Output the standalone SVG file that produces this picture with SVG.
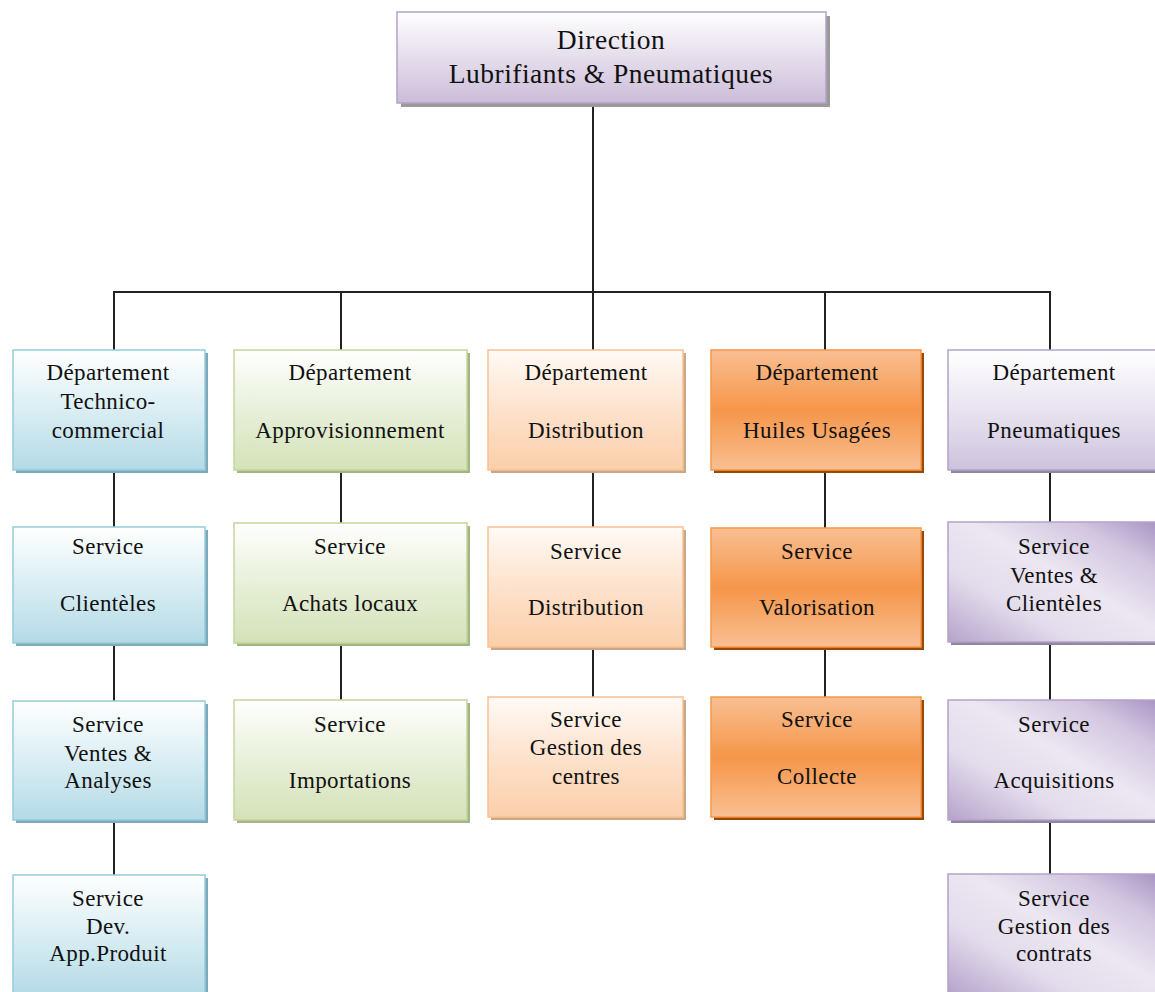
<svg xmlns="http://www.w3.org/2000/svg" width="1155" height="992" viewBox="0 0 1155 992">
  <defs>
    <linearGradient id="gTop" x1="0" y1="0" x2="0" y2="1">
      <stop offset="0" stop-color="#ffffff"/>
      <stop offset="1" stop-color="#cbbcd8"/>
    </linearGradient>
    <linearGradient id="gBlue" x1="0" y1="0" x2="0" y2="1">
      <stop offset="0" stop-color="#ffffff"/>
      <stop offset="0.55" stop-color="#d6ecf2"/>
      <stop offset="1" stop-color="#b4dae6"/>
    </linearGradient>
    <linearGradient id="gGreen" x1="0" y1="0" x2="0" y2="1">
      <stop offset="0" stop-color="#ffffff"/>
      <stop offset="0.55" stop-color="#e6eed6"/>
      <stop offset="1" stop-color="#d4e2b8"/>
    </linearGradient>
    <linearGradient id="gPeach" x1="0" y1="0" x2="0" y2="1">
      <stop offset="0" stop-color="#fffaf6"/>
      <stop offset="0.55" stop-color="#fde0c9"/>
      <stop offset="1" stop-color="#fbcfaa"/>
    </linearGradient>
    <linearGradient id="gOrange" x1="0" y1="0" x2="0" y2="1">
      <stop offset="0" stop-color="#f9bf92"/>
      <stop offset="0.5" stop-color="#f5964a"/>
      <stop offset="1" stop-color="#f9bf92"/>
    </linearGradient>
    <linearGradient id="gPurple" x1="0" y1="1" x2="1" y2="0">
      <stop offset="0" stop-color="#b5a3cb"/>
      <stop offset="0.3" stop-color="#e3dcec"/>
      <stop offset="0.55" stop-color="#ece7f2"/>
      <stop offset="0.8" stop-color="#d2c6e0"/>
      <stop offset="1" stop-color="#a994c4"/>
    </linearGradient>
    <linearGradient id="gPurpleDept" x1="0" y1="0" x2="0" y2="1">
      <stop offset="0" stop-color="#ffffff"/>
      <stop offset="0.55" stop-color="#e6e0ee"/>
      <stop offset="1" stop-color="#cdc2dc"/>
    </linearGradient>
  </defs>
  <style>
    text { font-family: "Liberation Serif", "Tinos", "Times New Roman", "DejaVu Serif", serif; font-size: 23px; letter-spacing: 0.4px; fill: #111; text-anchor: middle; }
    .big { font-size: 27.5px; letter-spacing: 0.5px; }
    .conn line { stroke: #222; stroke-width: 2; }
    .sh { fill: #9a9a9a; }
    .shB { fill: #7fa9b8; }
    .shG { fill: #a5b484; }
    .shP { fill: #c9a88a; }
    .shO { fill: #984807; }
    .shV { fill: #8f86a0; }
    .blue { fill: url(#gBlue); stroke: #92cddc; stroke-width: 1.5; }
    .green { fill: url(#gGreen); stroke: #c3d69b; stroke-width: 1.5; }
    .peach { fill: url(#gPeach); stroke: #fac090; stroke-width: 1.5; }
    .orange { fill: url(#gOrange); stroke: #f79646; stroke-width: 1.5; }
    .purple { fill: url(#gPurple); stroke: #b3a2c7; stroke-width: 1.5; }
    .purpleD { fill: url(#gPurpleDept); stroke: #b3a2c7; stroke-width: 1.5; }
    .top { fill: url(#gTop); stroke: #b3a2c7; stroke-width: 1.5; }
  </style>

  <rect width="1155" height="992" fill="#ffffff"/>

  <!-- connectors -->
  <g id="connectors" class="conn">
    <line x1="593" y1="103" x2="593" y2="292"/>
    <line x1="113" y1="292" x2="1051" y2="292"/>
    <line x1="114" y1="292" x2="114" y2="350"/>
    <line x1="341" y1="292" x2="341" y2="350"/>
    <line x1="593" y1="292" x2="593" y2="350"/>
    <line x1="825" y1="292" x2="825" y2="350"/>
    <line x1="1050" y1="292" x2="1050" y2="350"/>
    <line x1="114" y1="470" x2="114" y2="527"/>
    <line x1="114" y1="643" x2="114" y2="701"/>
    <line x1="114" y1="820" x2="114" y2="875"/>
    <line x1="341" y1="470" x2="341" y2="523"/>
    <line x1="341" y1="643" x2="341" y2="700"/>
    <line x1="593" y1="470" x2="593" y2="527"/>
    <line x1="593" y1="647" x2="593" y2="697"/>
    <line x1="825" y1="470" x2="825" y2="528"/>
    <line x1="825" y1="647" x2="825" y2="697"/>
    <line x1="1050" y1="470" x2="1050" y2="522"/>
    <line x1="1050" y1="642" x2="1050" y2="700"/>
    <line x1="1050" y1="820" x2="1050" y2="874"/>
  </g>

  <!-- top -->
  <g id="direction">
    <rect class="sh" x="401" y="16" width="429" height="91"/>
    <rect class="top" x="397" y="12" width="429" height="91"/>
    <text class="big" x="611" y="49">Direction</text>
    <text class="big" x="611" y="83">Lubrifiants &amp; Pneumatiques</text>
  </g>

  <!-- column 1 -->
  <g id="dept-technico">
    <rect class="shB" x="16" y="353" width="192" height="120"/>
    <rect class="blue" x="13" y="350" width="192" height="120"/>
    <text x="108" y="380">Département</text>
    <text x="108" y="409">Technico-</text>
    <text x="108" y="438">commercial</text>
  </g>
  <g id="svc-clienteles">
    <rect class="shB" x="16" y="530" width="192" height="116"/>
    <rect class="blue" x="13" y="527" width="192" height="116"/>
    <text x="108" y="554">Service</text>
    <text x="108" y="611">Clientèles</text>
  </g>
  <g id="svc-ventes-analyses">
    <rect class="shB" x="16" y="704" width="192" height="119"/>
    <rect class="blue" x="13" y="701" width="192" height="119"/>
    <text x="108" y="732">Service</text>
    <text x="108" y="761">Ventes &amp;</text>
    <text x="108" y="788">Analyses</text>
  </g>
  <g id="svc-dev-app">
    <rect class="shB" x="16" y="878" width="192" height="120"/>
    <rect class="blue" x="13" y="875" width="192" height="120"/>
    <text x="108" y="906">Service</text>
    <text x="108" y="934">Dev.</text>
    <text x="108" y="961">App.Produit</text>
  </g>

  <!-- column 2 -->
  <g id="dept-appro">
    <rect class="shG" x="237" y="353" width="233" height="120"/>
    <rect class="green" x="234" y="350" width="233" height="120"/>
    <text x="350" y="380">Département</text>
    <text x="350" y="438">Approvisionnement</text>
  </g>
  <g id="svc-achats">
    <rect class="shG" x="237" y="526" width="233" height="120"/>
    <rect class="green" x="234" y="523" width="233" height="120"/>
    <text x="350" y="554">Service</text>
    <text x="350" y="611">Achats locaux</text>
  </g>
  <g id="svc-importations">
    <rect class="shG" x="237" y="703" width="233" height="120"/>
    <rect class="green" x="234" y="700" width="233" height="120"/>
    <text x="350" y="732">Service</text>
    <text x="350" y="788">Importations</text>
  </g>

  <!-- column 3 -->
  <g id="dept-distribution">
    <rect class="shP" x="491" y="353" width="195" height="120"/>
    <rect class="peach" x="488" y="350" width="195" height="120"/>
    <text x="586" y="380">Département</text>
    <text x="586" y="438">Distribution</text>
  </g>
  <g id="svc-distribution">
    <rect class="shP" x="491" y="530" width="195" height="120"/>
    <rect class="peach" x="488" y="527" width="195" height="120"/>
    <text x="586" y="559">Service</text>
    <text x="586" y="615">Distribution</text>
  </g>
  <g id="svc-gestion-centres">
    <rect class="shP" x="491" y="700" width="195" height="120"/>
    <rect class="peach" x="488" y="697" width="195" height="120"/>
    <text x="586" y="727">Service</text>
    <text x="586" y="755">Gestion des</text>
    <text x="586" y="784">centres</text>
  </g>

  <!-- column 4 -->
  <g id="dept-huiles">
    <rect class="shO" x="714" y="353" width="210" height="120"/>
    <rect class="orange" x="711" y="350" width="210" height="120"/>
    <text x="817" y="380">Département</text>
    <text x="817" y="438">Huiles Usagées</text>
  </g>
  <g id="svc-valorisation">
    <rect class="shO" x="714" y="531" width="210" height="119"/>
    <rect class="orange" x="711" y="528" width="210" height="119"/>
    <text x="817" y="559">Service</text>
    <text x="817" y="615">Valorisation</text>
  </g>
  <g id="svc-collecte">
    <rect class="shO" x="714" y="700" width="210" height="120"/>
    <rect class="orange" x="711" y="697" width="210" height="120"/>
    <text x="817" y="727">Service</text>
    <text x="817" y="784">Collecte</text>
  </g>

  <!-- column 5 -->
  <g id="dept-pneumatiques">
    <rect class="shV" x="951" y="353" width="210" height="120"/>
    <rect class="purpleD" x="948" y="350" width="210" height="120"/>
    <text x="1054" y="380">Département</text>
    <text x="1054" y="438">Pneumatiques</text>
  </g>
  <g id="svc-ventes-clienteles">
    <rect class="shV" x="951" y="525" width="210" height="120"/>
    <rect class="purple" x="948" y="522" width="210" height="120"/>
    <text x="1054" y="554">Service</text>
    <text x="1054" y="583">Ventes &amp;</text>
    <text x="1054" y="611">Clientèles</text>
  </g>
  <g id="svc-acquisitions">
    <rect class="shV" x="951" y="703" width="210" height="120"/>
    <rect class="purple" x="948" y="700" width="210" height="120"/>
    <text x="1054" y="732">Service</text>
    <text x="1054" y="788">Acquisitions</text>
  </g>
  <g id="svc-gestion-contrats">
    <rect class="shV" x="951" y="877" width="210" height="120"/>
    <rect class="purple" x="948" y="874" width="210" height="120"/>
    <text x="1054" y="906">Service</text>
    <text x="1054" y="934">Gestion des</text>
    <text x="1054" y="961">contrats</text>
  </g>
</svg>
